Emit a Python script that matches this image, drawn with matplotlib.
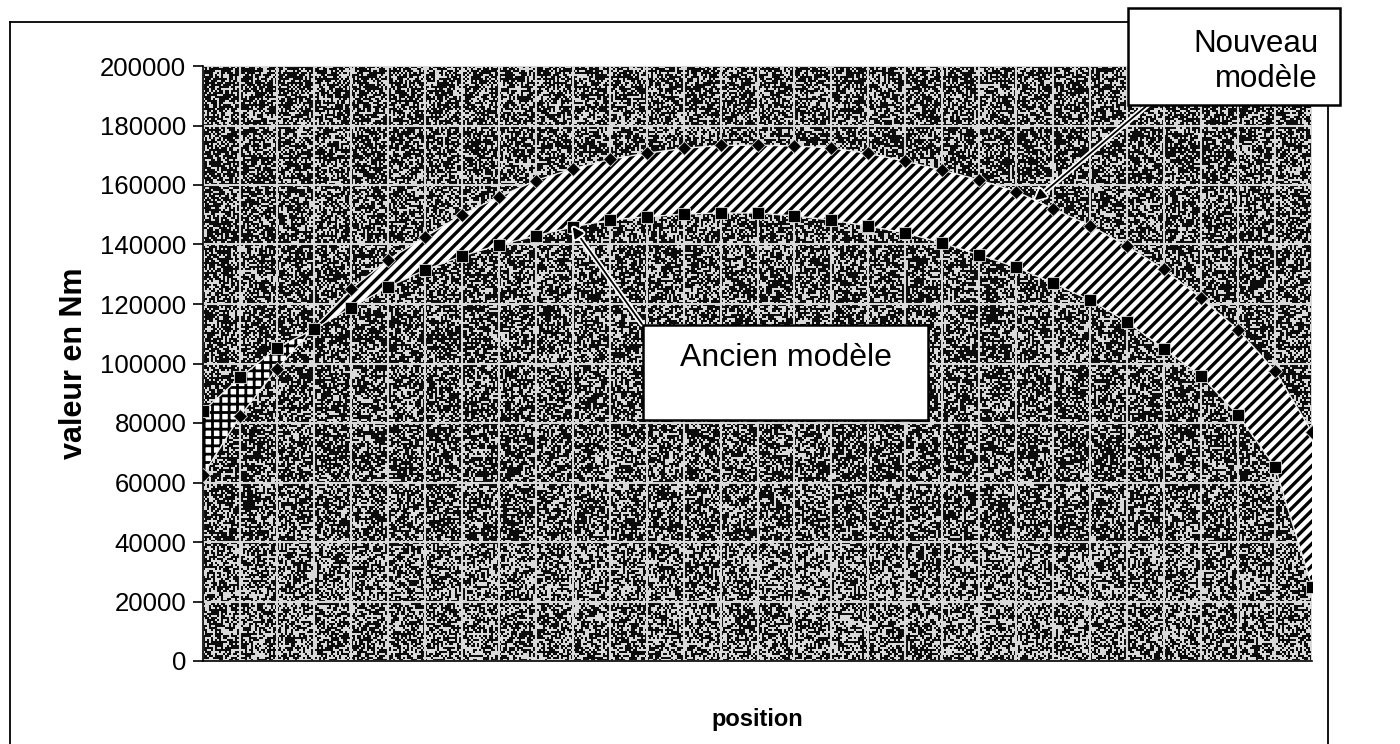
import numpy as np
import matplotlib
matplotlib.use("Agg")
import matplotlib.pyplot as plt
import matplotlib.patheffects as pe
from matplotlib.patches import Rectangle
from matplotlib.lines import Line2D

plt.rcParams['font.family'] = ['Liberation Sans', 'DejaVu Sans']

# values (Nm), 31 positions
position = list(range(31))
nouveau = [62500, 82300, 98200, 112000, 125000, 134800, 142500, 150000,
           156000, 161500, 165400, 168600, 170700, 172300, 173300, 173400,
           173100, 172500, 170600, 168000, 165000, 161700, 157800, 152000,
           146300, 139500, 131600, 122000, 111300, 97500, 77000]
ancien = [84000, 95300, 105200, 111600, 118700, 125700, 131400, 136100,
          139800, 142900, 145900, 148200, 149300, 150200, 150600, 150600,
          149600, 148200, 146200, 143900, 140500, 136500, 132400, 127000,
          121300, 114000, 104900, 95800, 82700, 65200, 25000]
y_ticks = list(range(0, 200001, 20000))

W, H = 1400, 744


def px(x, y):
    # figure pixel (top-left origin) -> figure fraction
    return x / W, 1 - y / H


fig = plt.figure(figsize=(W / 100, H / 100), dpi=100)
fig.patch.set_facecolor('white')

l, b = px(203, 661)
r, t = px(1312, 66)
ax = fig.add_axes([l, b, r - l, t - b])

x = np.array(position)
new = np.array(nouveau)
old = np.array(ancien)

ax.set_xlim(x[0], x[-1])
ax.set_ylim(0, 200000)

# scanned speckle background (texture only)
gi, gj = np.mgrid[0:300, 0:555]
noise = np.modf(np.abs(np.sin(gi * 12.9898 + gj * 78.233) * 43758.5453))[0]
thr = np.where(gi > 240, 0.52, 0.62)
tex = np.where(noise < thr, 0.05, 0.85)
ax.imshow(tex, cmap='gray', vmin=0, vmax=1, aspect='auto',
          extent=(x[0], x[-1], 0, 200000), interpolation='nearest', zorder=0)

ax.set_xticks(position)
ax.set_yticks(y_ticks)
ax.set_xticklabels([])
ax.set_yticklabels([str(v) for v in y_ticks])
ax.tick_params(axis='x', length=0)
ax.tick_params(axis='y', direction='out', length=7, width=1.2,
               labelsize=18.5, pad=5)
ax.set_axisbelow(True)
ax.grid(True, color='#d8d8d8', lw=1.5)
for s in ['top', 'right']:
    ax.spines[s].set_visible(False)
ax.spines['left'].set_linewidth(1.2)
ax.spines['bottom'].set_linewidth(1.2)

# band between the two models
plt.rcParams['hatch.linewidth'] = 2.4
ax.fill_between(x, old, new, where=new >= old, interpolate=True,
                facecolor='white', edgecolor='black', hatch='///',
                linewidth=0, zorder=2)
plt.rcParams['hatch.linewidth'] = 2.0
ax.fill_between(x, old, new, where=new <= old, interpolate=True,
                facecolor='white', edgecolor='black', hatch='++',
                linewidth=0, zorder=2)

ax.plot(x, new, color='#eeeeee', lw=1, zorder=3)
ax.plot(x, old, color='#eeeeee', lw=1, zorder=3)
ax.plot(x, new, ls='none', marker='D', ms=7, mfc='black', mec='#dddddd',
        mew=0.6, zorder=4)
ax.plot(x, old, ls='none', marker='s', ms=8, mfc='black', mec='#dddddd',
        mew=0.6, zorder=4)

ax.set_xlabel('position', fontsize=17, fontweight='bold', labelpad=30)
ax.set_ylabel('valeur en Nm', fontsize=22, fontweight='bold', labelpad=8)

# outer chart border
for (x0, y0, x1, y1) in [(10, 22, 1130, 22), (10, 22, 10, 744),
                         (1328, 105, 1328, 744)]:
    a0, b0 = px(x0, y0)
    a1, b1 = px(x1, y1)
    fig.add_artist(Line2D([a0, a1], [b0, b1], color='black', lw=1.3,
                          transform=fig.transFigure))

# callout boxes
for (x0, y0, x1, y1) in [(1128, 8, 1340, 105), (643, 325, 928, 420)]:
    a0, b0 = px(x0, y1)
    a1, b1 = px(x1, y0)
    fig.add_artist(Rectangle((a0, b0), a1 - a0, b1 - b0, facecolor='white',
                             edgecolor='black', lw=1.8,
                             transform=fig.transFigure, zorder=5))

fig.text(*px(1318, 29), 'Nouveau\nmodèle', ha='right', va='top',
         fontsize=22.5, linespacing=1.2, zorder=6)
fig.text(*px(786, 358), 'Ancien modèle', ha='center', va='center',
         fontsize=23, zorder=6)

arrow = dict(arrowstyle='-|>', color='black', lw=1.3, mutation_scale=16,
             shrinkA=0, shrinkB=0,
             path_effects=[pe.withStroke(linewidth=4, foreground='white')])
ax.annotate('', xy=(22.5, (new[22] + new[23]) / 2), xycoords='data',
            xytext=px(1150, 103), textcoords='figure fraction',
            arrowprops=arrow, zorder=6)
ax.annotate('', xy=(10, old[10]), xycoords='data',
            xytext=px(642, 324), textcoords='figure fraction',
            arrowprops=arrow, zorder=6)

fig.savefig('out.png', dpi=100)
